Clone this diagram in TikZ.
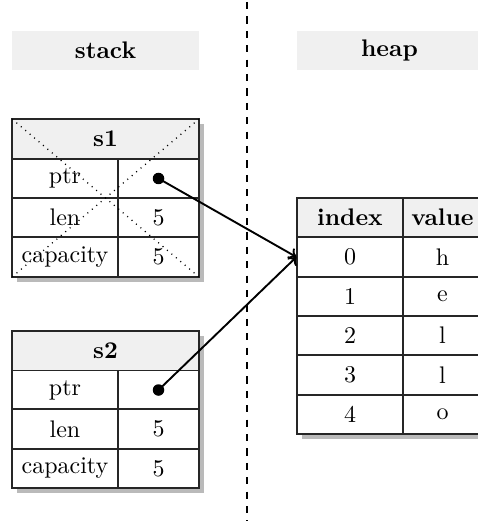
\documentclass[tikz,border=0pt]{standalone}
\usetikzlibrary{arrows.meta}
\newcommand{\sz}[1]{\scalebox{2.4}{#1}}
\begin{document}
\begin{tikzpicture}[x=1pt,y=-1pt,
  cell/.style={draw=black!85,fill=white,line width=1.2pt,inner sep=0pt,font=\fontsize{10}{12}\selectfont},
  hcell/.style={cell,fill=black!6,font=\fontsize{10}{12}\selectfont\bfseries},
  lbl/.style={fill=black!6,inner sep=0pt,minimum width=187pt,minimum height=39pt,font=\fontsize{10}{12}\selectfont\bfseries},
  shadowbox/.style={fill=black!27},
  ptrdot/.style={circle,fill=black,inner sep=0pt,minimum size=11.5pt},
  link/.style={line width=1.9pt,-{To[length=7pt,width=13pt]}}]
\clip (0,0) rectangle (478,521);
\useasboundingbox (0,0) rectangle (478,521);
% labels
\node[lbl] (stack) at (105.5,50.5) {\sz{stack}};
\node[lbl,minimum width=185pt] (heap) at (389.5,50.5) {\sz{heap}};
% divider
\coordinate (dtop) at (247,2);
\coordinate (dbot) at (247,521);
\draw[line width=1.9pt,dash pattern=on 7.2pt off 7.2pt] (dtop) -- (dbot);
% shadows
\fill[shadowbox] (17,124) rectangle (204,282);
\fill[shadowbox] (17,336) rectangle (204,493);
\fill[shadowbox] (302,203) rectangle (487,439);
% s1
\node[hcell,minimum width=187pt,minimum height=40pt] (s1h) at (105.5,139) {\sz{s1}};
\node[cell,minimum width=106pt,minimum height=39pt] (s1a) at (65,178.5) {\sz{ptr}};
\node[cell,minimum width=81pt,minimum height=39pt] (s1b) at (158.5,178.5) {};
\node[cell,minimum width=106pt,minimum height=39pt] (s1c) at (65,217.5) {\sz{len}};
\node[cell,minimum width=81pt,minimum height=39pt] (s1d) at (158.5,217.5) {\sz{5}};
\node[cell,minimum width=106pt,minimum height=40pt] (s1e) at (65,257) {\sz{capacity}};
\node[cell,minimum width=81pt,minimum height=40pt] (s1f) at (158.5,257) {\sz{5}};
\coordinate (x1) at (12,119);
\coordinate (x2) at (199,277);
\coordinate (x3) at (199,119);
\coordinate (x4) at (12,277);
\draw[line width=1.3pt,dash pattern=on 1pt off 4.8pt] (x1) -- (x2);
\draw[line width=1.3pt,dash pattern=on 1pt off 4.8pt] (x3) -- (x4);
% s2
\node[hcell,minimum width=187pt,minimum height=40pt] (s2h) at (105.5,351) {\sz{s2}};
\node[cell,minimum width=106pt,minimum height=39pt] (s2a) at (65,390) {\sz{ptr}};
\node[cell,minimum width=81pt,minimum height=39pt] (s2b) at (158.5,390) {};
\node[cell,minimum width=106pt,minimum height=40pt] (s2c) at (65,429) {\sz{len}};
\node[cell,minimum width=81pt,minimum height=40pt] (s2d) at (158.5,429) {\sz{5}};
\node[cell,minimum width=106pt,minimum height=39pt] (s2e) at (65,468.5) {\sz{capacity}};
\node[cell,minimum width=81pt,minimum height=39pt] (s2f) at (158.5,468.5) {\sz{5}};
% heap
\node[hcell,minimum width=106pt,minimum height=39pt] (hih) at (350,217.5) {\sz{index}};
\node[hcell,minimum width=79pt,minimum height=39pt] (hvh) at (442.5,217.5) {\sz{value}};
\node[cell,minimum width=106pt,minimum height=40pt] (hi0) at (350,257) {\sz{0}};
\node[cell,minimum width=79pt,minimum height=40pt] (hv0) at (442.5,257) {\sz{h}};
\node[cell,minimum width=106pt,minimum height=39pt] (hi1) at (350,296.5) {\sz{1}};
\node[cell,minimum width=79pt,minimum height=39pt] (hv1) at (442.5,296.5) {\sz{e}};
\node[cell,minimum width=106pt,minimum height=39pt] (hi2) at (350,335.5) {\sz{2}};
\node[cell,minimum width=79pt,minimum height=39pt] (hv2) at (442.5,335.5) {\sz{l}};
\node[cell,minimum width=106pt,minimum height=40pt] (hi3) at (350,375) {\sz{3}};
\node[cell,minimum width=79pt,minimum height=40pt] (hv3) at (442.5,375) {\sz{l}};
\node[cell,minimum width=106pt,minimum height=39pt] (hi4) at (350,414.5) {\sz{4}};
\node[cell,minimum width=79pt,minimum height=39pt] (hv4) at (442.5,414.5) {\sz{o}};
% pointers
\node[ptrdot] (d1) at (s1b.center) {};
\node[ptrdot] (d2) at (s2b.center) {};
\draw[link] (d1.center) -- (hi0.west);
\draw[link] (d2.center) -- (hi0.west);
\end{tikzpicture}
\end{document}
